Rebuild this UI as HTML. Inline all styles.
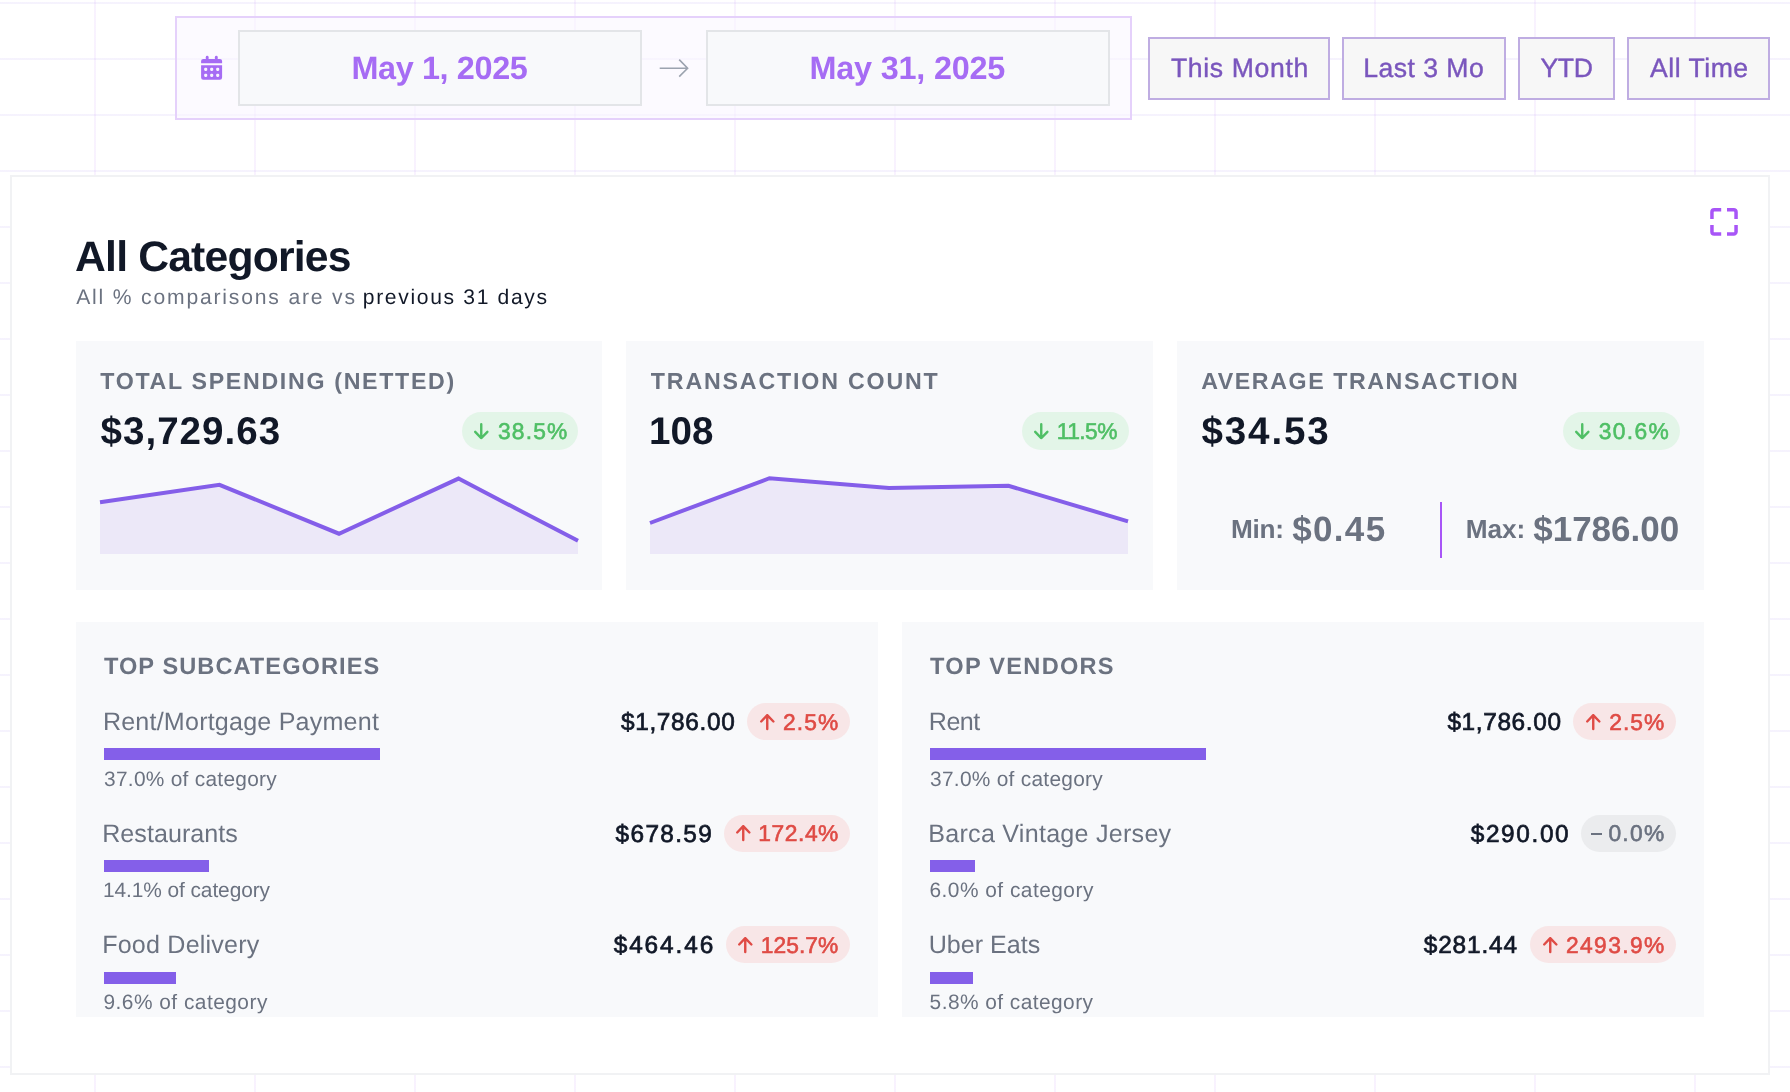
<!DOCTYPE html><html><head><meta charset="utf-8"><style>
html,body{margin:0;padding:0;width:1790px;height:1092px;overflow:hidden;}
body{position:relative;background-color:#fff;background-image:linear-gradient(to right,rgba(168,85,247,0.075) 0,rgba(168,85,247,0.075) 2px,transparent 2px),linear-gradient(to bottom,rgba(120,80,230,0.07) 0,rgba(120,80,230,0.07) 2px,transparent 2px);background-size:160px 56px;background-position:94px 2px;font-family:"Liberation Sans",sans-serif;}
.a{position:absolute;box-sizing:border-box;}
.t{position:absolute;white-space:pre;font-family:"Liberation Sans",sans-serif;text-rendering:geometricPrecision;}
svg{position:absolute;overflow:visible;}
</style></head><body><div style="position:absolute;left:0;top:0;width:1790px;height:1092px;will-change:transform">
<div class="a" style="left:175px;top:16px;width:957px;height:104px;border:2px solid #e5d1fb;background:rgba(249,245,255,0.55)"></div>
<svg style="left:196px;top:52px" width="32" height="32" viewBox="0 0 32 32"><g fill="#a66cf4">
<rect x="9.8" y="3.8" width="2.8" height="5" rx="1.4"/><rect x="18.9" y="3.8" width="2.8" height="5" rx="1.4"/>
<path d="M5.1 11.3V9.1a2.2 2.2 0 0 1 2.2-2.2h16.6a2.2 2.2 0 0 1 2.2 2.2v2.2z"/>
<path d="M5.1 13.2h21v12.4a2.2 2.2 0 0 1-2.2 2.2H7.3a2.2 2.2 0 0 1-2.2-2.2z"/></g><rect x="8.15" y="15.85" width="3.1" height="3.1" rx="1.1" fill="#f8f5fe"/><rect x="14.15" y="15.85" width="3.1" height="3.1" rx="1.1" fill="#f8f5fe"/><rect x="20.15" y="15.85" width="3.1" height="3.1" rx="1.1" fill="#f8f5fe"/><rect x="8.15" y="21.85" width="3.1" height="3.1" rx="1.1" fill="#f8f5fe"/><rect x="14.15" y="21.85" width="3.1" height="3.1" rx="1.1" fill="#f8f5fe"/><rect x="20.15" y="21.85" width="3.1" height="3.1" rx="1.1" fill="#f8f5fe"/></svg>
<div class="a" style="left:238px;top:30px;width:404px;height:76px;border:2px solid #e3e5e8;background:#f8f9fb"></div>
<div class="a" style="left:706px;top:30px;width:404px;height:76px;border:2px solid #e3e5e8;background:#f8f9fb"></div>
<svg style="left:652px;top:54px" width="44" height="28" viewBox="0 0 44 28"><path d="M7.7 14.2H35.3M27.2 5.6L35.6 14.2L27.2 22.6" fill="none" stroke="#9ca3af" stroke-width="1.6" stroke-linejoin="miter"/></svg>
<div class="t" style="left:351.4px;top:52.0px;font-size:32.4px;line-height:32.4px;letter-spacing:-0.367px;font-weight:700;color:#a66cf4">May 1, 2025</div>
<div class="t" style="left:809.5px;top:52.0px;font-size:32.4px;line-height:32.4px;letter-spacing:-0.206px;font-weight:700;color:#a66cf4">May 31, 2025</div>
<div class="a" style="left:1148px;top:37px;width:182px;height:63px;border:2px solid #bfade2;background:#f7f7f7"></div>
<div class="a" style="left:1342px;top:37px;width:164px;height:63px;border:2px solid #bfade2;background:#f7f7f7"></div>
<div class="a" style="left:1518px;top:37px;width:97px;height:63px;border:2px solid #bfade2;background:#f7f7f7"></div>
<div class="a" style="left:1627px;top:37px;width:143px;height:63px;border:2px solid #bfade2;background:#f7f7f7"></div>
<div class="t" style="left:1171.0px;top:55.0px;font-size:26.6px;line-height:26.6px;letter-spacing:0.628px;font-weight:400;color:#7a56bd;-webkit-text-stroke:0.4px #7a56bd">This Month</div>
<div class="t" style="left:1363.2px;top:55.0px;font-size:26.6px;line-height:26.6px;letter-spacing:0.466px;font-weight:400;color:#7a56bd;-webkit-text-stroke:0.4px #7a56bd">Last 3 Mo</div>
<div class="t" style="left:1540.4px;top:55.0px;font-size:26.6px;line-height:26.6px;letter-spacing:-0.316px;font-weight:400;color:#7a56bd;-webkit-text-stroke:0.4px #7a56bd">YTD</div>
<div class="t" style="left:1650.0px;top:55.0px;font-size:26.6px;line-height:26.6px;letter-spacing:0.509px;font-weight:400;color:#7a56bd;-webkit-text-stroke:0.4px #7a56bd">All Time</div>
<div class="a" style="left:10px;top:175px;width:1760px;height:900px;border:2px solid #f1f2f4;background:#fff"></div>
<svg style="left:1700px;top:200px" width="44" height="44" viewBox="0 0 44 44"><g fill="none" stroke="#a855f7" stroke-width="3.5" stroke-linecap="butt" stroke-linejoin="round">
<path d="M11.95 18.9V11.9A2.25 2.25 0 0 1 14.2 9.65H21.2"/><path d="M27 9.65H33.8A2.25 2.25 0 0 1 36.05 11.9V18.9"/>
<path d="M11.95 24.9V31.7A2.25 2.25 0 0 0 14.2 33.95H21.2"/><path d="M27 33.95H33.8A2.25 2.25 0 0 0 36.05 31.7V24.9"/></g></svg>
<div class="t" style="left:75.1px;top:236.0px;font-size:42.7px;line-height:42.7px;letter-spacing:-0.825px;font-weight:700;color:#111827">All Categories</div>
<div class="t" style="left:76.2px;top:287.0px;font-size:21.1px;line-height:21.1px;letter-spacing:1.826px;font-weight:400;color:#6b7280">All % comparisons are vs</div>
<div class="t" style="left:362.8px;top:287.0px;font-size:21.1px;line-height:21.1px;letter-spacing:1.654px;font-weight:400;color:#111827">previous 31 days</div>
<div class="a" style="left:76px;top:341px;width:526px;height:249px;background:#f8f9fb"></div>
<div class="a" style="left:626px;top:341px;width:527px;height:249px;background:#f8f9fb"></div>
<div class="a" style="left:1177px;top:341px;width:527px;height:249px;background:#f8f9fb"></div>
<div class="t" style="left:100.3px;top:370.0px;font-size:23.2px;line-height:23.2px;letter-spacing:1.683px;font-weight:700;color:#6b7280">TOTAL SPENDING (NETTED)</div>
<div class="t" style="left:650.8px;top:370.0px;font-size:23.2px;line-height:23.2px;letter-spacing:1.835px;font-weight:700;color:#6b7280">TRANSACTION COUNT</div>
<div class="t" style="left:1201.2px;top:370.0px;font-size:23.2px;line-height:23.2px;letter-spacing:1.577px;font-weight:700;color:#6b7280">AVERAGE TRANSACTION</div>
<div class="t" style="left:100.5px;top:413.0px;font-size:38.6px;line-height:38.6px;letter-spacing:1.009px;font-weight:700;color:#111827">$3,729.63</div>
<div class="t" style="left:649.1px;top:413.0px;font-size:38.6px;line-height:38.6px;letter-spacing:0.018px;font-weight:700;color:#111827">108</div>
<div class="t" style="left:1201.6px;top:413.0px;font-size:38.6px;line-height:38.6px;letter-spacing:1.807px;font-weight:700;color:#111827">$34.53</div>
<div class="a" style="left:462px;top:412px;width:116px;height:38px;background:#e3f5e8;border-radius:19px"></div>
<svg style="left:474px;top:422.7px" width="16" height="18" viewBox="0 0 16 18"><path d="M7.25 1.2V15.100000000000001M1.2 8.8L7.25 15.100000000000001L13.4 8.8" fill="none" stroke="#4fbf65" stroke-width="2.4" stroke-linecap="round" stroke-linejoin="round"/></svg>
<div class="a" style="left:1022px;top:412px;width:107px;height:38px;background:#e3f5e8;border-radius:19px"></div>
<svg style="left:1034px;top:422.7px" width="16" height="18" viewBox="0 0 16 18"><path d="M7.25 1.2V15.100000000000001M1.2 8.8L7.25 15.100000000000001L13.4 8.8" fill="none" stroke="#4fbf65" stroke-width="2.4" stroke-linecap="round" stroke-linejoin="round"/></svg>
<div class="a" style="left:1563px;top:412px;width:117px;height:38px;background:#e3f5e8;border-radius:19px"></div>
<svg style="left:1575px;top:422.7px" width="16" height="18" viewBox="0 0 16 18"><path d="M7.25 1.2V15.100000000000001M1.2 8.8L7.25 15.100000000000001L13.4 8.8" fill="none" stroke="#4fbf65" stroke-width="2.4" stroke-linecap="round" stroke-linejoin="round"/></svg>
<div class="t" style="left:497.9px;top:420.0px;font-size:22.8px;line-height:22.8px;letter-spacing:1.216px;font-weight:400;color:#4fbf65;-webkit-text-stroke:0.6px #4fbf65">38.5%</div>
<div class="t" style="left:1056.7px;top:420.0px;font-size:22.8px;line-height:22.8px;letter-spacing:-0.528px;font-weight:400;color:#4fbf65;-webkit-text-stroke:0.6px #4fbf65">11.5%</div>
<div class="t" style="left:1598.7px;top:420.0px;font-size:22.8px;line-height:22.8px;letter-spacing:1.341px;font-weight:400;color:#4fbf65;-webkit-text-stroke:0.6px #4fbf65">30.6%</div>
<div class="a" style="left:1440px;top:502px;width:2px;height:56px;background:#a855f7"></div>
<div class="t" style="left:1231.0px;top:516.0px;font-size:26.2px;line-height:26.2px;letter-spacing:-0.252px;font-weight:700;color:#6b7280">Min:</div>
<div class="t" style="left:1292.2px;top:512.0px;font-size:35.0px;line-height:35.0px;letter-spacing:1.337px;font-weight:700;color:#6b7280">$0.45</div>
<div class="t" style="left:1465.8px;top:516.0px;font-size:26.2px;line-height:26.2px;letter-spacing:-0.118px;font-weight:700;color:#6b7280">Max:</div>
<div class="t" style="left:1533.2px;top:512.0px;font-size:35.0px;line-height:35.0px;letter-spacing:0.008px;font-weight:700;color:#6b7280">$1786.00</div>
<svg style="left:100px;top:400px" width="478" height="154" viewBox="0 0 478 154"><path d="M0,154 L0.0,102.3 L119.5,84.8 L239.0,133.7 L358.5,78.6 L478.0,140.8 L478.0,154 Z" fill="#ece8f8"/><polyline points="0.0,102.3 119.5,84.8 239.0,133.7 358.5,78.6 478.0,140.8" fill="none" stroke="#845ee9" stroke-width="4" stroke-linejoin="miter" stroke-linecap="butt"/></svg>
<svg style="left:650px;top:400px" width="478" height="154" viewBox="0 0 478 154"><path d="M0,154 L0.0,123.0 L119.5,78.2 L239.0,88.0 L358.5,85.8 L478.0,121.3 L478.0,154 Z" fill="#ece8f8"/><polyline points="0.0,123.0 119.5,78.2 239.0,88.0 358.5,85.8 478.0,121.3" fill="none" stroke="#845ee9" stroke-width="4" stroke-linejoin="miter" stroke-linecap="butt"/></svg>
<div class="a" style="left:76px;top:622px;width:802px;height:395px;background:#f8f9fb"></div>
<div class="a" style="left:902px;top:622px;width:802px;height:395px;background:#f8f9fb"></div>
<div class="t" style="left:103.9px;top:656.0px;font-size:23.6px;line-height:23.6px;letter-spacing:1.071px;font-weight:700;color:#6b7280">TOP SUBCATEGORIES</div>
<div class="t" style="left:930.1px;top:656.0px;font-size:23.6px;line-height:23.6px;letter-spacing:1.260px;font-weight:700;color:#6b7280">TOP VENDORS</div>
<div class="a" style="left:104px;top:748px;width:276.0px;height:12px;background:#845fe9"></div>
<div class="t" style="left:102.9px;top:710.0px;font-size:25.1px;line-height:25.1px;letter-spacing:0.201px;font-weight:400;color:#6b7280">Rent/Mortgage Payment</div>
<div class="t" style="left:104.1px;top:770.0px;font-size:20.9px;line-height:20.9px;letter-spacing:0.264px;font-weight:400;color:#6b7280">37.0% of category</div>
<div class="t" style="left:621.0px;top:711.0px;font-size:24.4px;line-height:24.4px;letter-spacing:0.652px;font-weight:400;color:#111827;-webkit-text-stroke:0.7px #111827">$1,786.00</div>
<div class="a" style="left:747px;top:703px;width:102.89999999999998px;height:37px;background:#f8e6e7;border-radius:19px"></div>
<svg style="left:759.8px;top:713.7px" width="16" height="18" viewBox="0 0 16 18"><path d="M7.25 1.2V15.100000000000001M1.2 7.5L7.25 1.2L13.4 7.5" fill="none" stroke="#df4b45" stroke-width="2.4" stroke-linecap="round" stroke-linejoin="round"/></svg>
<div class="t" style="left:783.1px;top:711.0px;font-size:22.8px;line-height:22.8px;letter-spacing:1.067px;font-weight:400;color:#df4b45;-webkit-text-stroke:0.6px #df4b45">2.5%</div>
<div class="a" style="left:930px;top:748px;width:276.0px;height:12px;background:#845fe9"></div>
<div class="t" style="left:928.8px;top:710.0px;font-size:25.1px;line-height:25.1px;letter-spacing:-0.527px;font-weight:400;color:#6b7280">Rent</div>
<div class="t" style="left:930.1px;top:770.0px;font-size:20.9px;line-height:20.9px;letter-spacing:0.264px;font-weight:400;color:#6b7280">37.0% of category</div>
<div class="t" style="left:1447.4px;top:711.0px;font-size:24.4px;line-height:24.4px;letter-spacing:0.639px;font-weight:400;color:#111827;-webkit-text-stroke:0.7px #111827">$1,786.00</div>
<div class="a" style="left:1573.1px;top:703px;width:102.80000000000018px;height:37px;background:#f8e6e7;border-radius:19px"></div>
<svg style="left:1586.1px;top:713.7px" width="16" height="18" viewBox="0 0 16 18"><path d="M7.25 1.2V15.100000000000001M1.2 7.5L7.25 1.2L13.4 7.5" fill="none" stroke="#df4b45" stroke-width="2.4" stroke-linecap="round" stroke-linejoin="round"/></svg>
<div class="t" style="left:1609.3px;top:711.0px;font-size:22.8px;line-height:22.8px;letter-spacing:1.001px;font-weight:400;color:#df4b45;-webkit-text-stroke:0.6px #df4b45">2.5%</div>
<div class="a" style="left:104px;top:860px;width:105.19999999999999px;height:12px;background:#845fe9"></div>
<div class="t" style="left:102.2px;top:822.0px;font-size:25.1px;line-height:25.1px;letter-spacing:0.036px;font-weight:400;color:#6b7280">Restaurants</div>
<div class="t" style="left:102.9px;top:881.0px;font-size:20.9px;line-height:20.9px;letter-spacing:-0.076px;font-weight:400;color:#6b7280">14.1% of category</div>
<div class="t" style="left:615.6px;top:823.0px;font-size:24.4px;line-height:24.4px;letter-spacing:1.343px;font-weight:400;color:#111827;-webkit-text-stroke:0.7px #111827">$678.59</div>
<div class="a" style="left:724.1px;top:814.5px;width:125.79999999999995px;height:37.0px;background:#f8e6e7;border-radius:19px"></div>
<svg style="left:736px;top:825.2px" width="16" height="18" viewBox="0 0 16 18"><path d="M7.25 1.2V15.100000000000001M1.2 7.5L7.25 1.2L13.4 7.5" fill="none" stroke="#df4b45" stroke-width="2.4" stroke-linecap="round" stroke-linejoin="round"/></svg>
<div class="t" style="left:758.3px;top:822.0px;font-size:22.8px;line-height:22.8px;letter-spacing:0.556px;font-weight:400;color:#df4b45;-webkit-text-stroke:0.6px #df4b45">172.4%</div>
<div class="a" style="left:930px;top:860px;width:44.799999999999955px;height:12px;background:#845fe9"></div>
<div class="t" style="left:928.3px;top:822.0px;font-size:25.1px;line-height:25.1px;letter-spacing:0.252px;font-weight:400;color:#6b7280">Barca Vintage Jersey</div>
<div class="t" style="left:929.5px;top:881.0px;font-size:20.9px;line-height:20.9px;letter-spacing:0.471px;font-weight:400;color:#6b7280">6.0% of category</div>
<div class="t" style="left:1470.7px;top:823.0px;font-size:24.4px;line-height:24.4px;letter-spacing:1.634px;font-weight:400;color:#111827;-webkit-text-stroke:0.7px #111827">$290.00</div>
<div class="a" style="left:1581.3px;top:814.5px;width:94.60000000000014px;height:37.0px;background:#ebecee;border-radius:19px"></div>
<div class="a" style="left:1591.1px;top:832.5px;width:11.0px;height:2.2000000000000455px;background:#6b7280"></div>
<div class="t" style="left:1608.4px;top:822.0px;font-size:22.8px;line-height:22.8px;letter-spacing:1.280px;font-weight:400;color:#6b7280;-webkit-text-stroke:0.6px #6b7280">0.0%</div>
<div class="a" style="left:104px;top:972px;width:71.6px;height:12px;background:#845fe9"></div>
<div class="t" style="left:102.2px;top:933.0px;font-size:25.1px;line-height:25.1px;letter-spacing:0.194px;font-weight:400;color:#6b7280">Food Delivery</div>
<div class="t" style="left:103.5px;top:993.0px;font-size:20.9px;line-height:20.9px;letter-spacing:0.471px;font-weight:400;color:#6b7280">9.6% of category</div>
<div class="t" style="left:613.7px;top:934.0px;font-size:24.4px;line-height:24.4px;letter-spacing:1.894px;font-weight:400;color:#111827;-webkit-text-stroke:0.7px #111827">$464.46</div>
<div class="a" style="left:726.1px;top:926px;width:123.79999999999995px;height:37px;background:#f8e6e7;border-radius:19px"></div>
<svg style="left:737.8px;top:936.7px" width="16" height="18" viewBox="0 0 16 18"><path d="M7.25 1.2V15.100000000000001M1.2 7.5L7.25 1.2L13.4 7.5" fill="none" stroke="#df4b45" stroke-width="2.4" stroke-linecap="round" stroke-linejoin="round"/></svg>
<div class="t" style="left:760.7px;top:934.0px;font-size:22.8px;line-height:22.8px;letter-spacing:0.076px;font-weight:400;color:#df4b45;-webkit-text-stroke:0.6px #df4b45">125.7%</div>
<div class="a" style="left:930px;top:972px;width:43.299999999999955px;height:12px;background:#845fe9"></div>
<div class="t" style="left:928.7px;top:933.0px;font-size:25.1px;line-height:25.1px;letter-spacing:-0.002px;font-weight:400;color:#6b7280">Uber Eats</div>
<div class="t" style="left:929.6px;top:993.0px;font-size:20.9px;line-height:20.9px;letter-spacing:0.441px;font-weight:400;color:#6b7280">5.8% of category</div>
<div class="t" style="left:1423.8px;top:934.0px;font-size:24.4px;line-height:24.4px;letter-spacing:0.848px;font-weight:400;color:#111827;-webkit-text-stroke:0.7px #111827">$281.44</div>
<div class="a" style="left:1530.1px;top:926px;width:145.80000000000018px;height:37px;background:#f8e6e7;border-radius:19px"></div>
<svg style="left:1542.6px;top:936.7px" width="16" height="18" viewBox="0 0 16 18"><path d="M7.25 1.2V15.100000000000001M1.2 7.5L7.25 1.2L13.4 7.5" fill="none" stroke="#df4b45" stroke-width="2.4" stroke-linecap="round" stroke-linejoin="round"/></svg>
<div class="t" style="left:1565.9px;top:934.0px;font-size:22.8px;line-height:22.8px;letter-spacing:1.400px;font-weight:400;color:#df4b45;-webkit-text-stroke:0.6px #df4b45">2493.9%</div>
</div></body></html>
